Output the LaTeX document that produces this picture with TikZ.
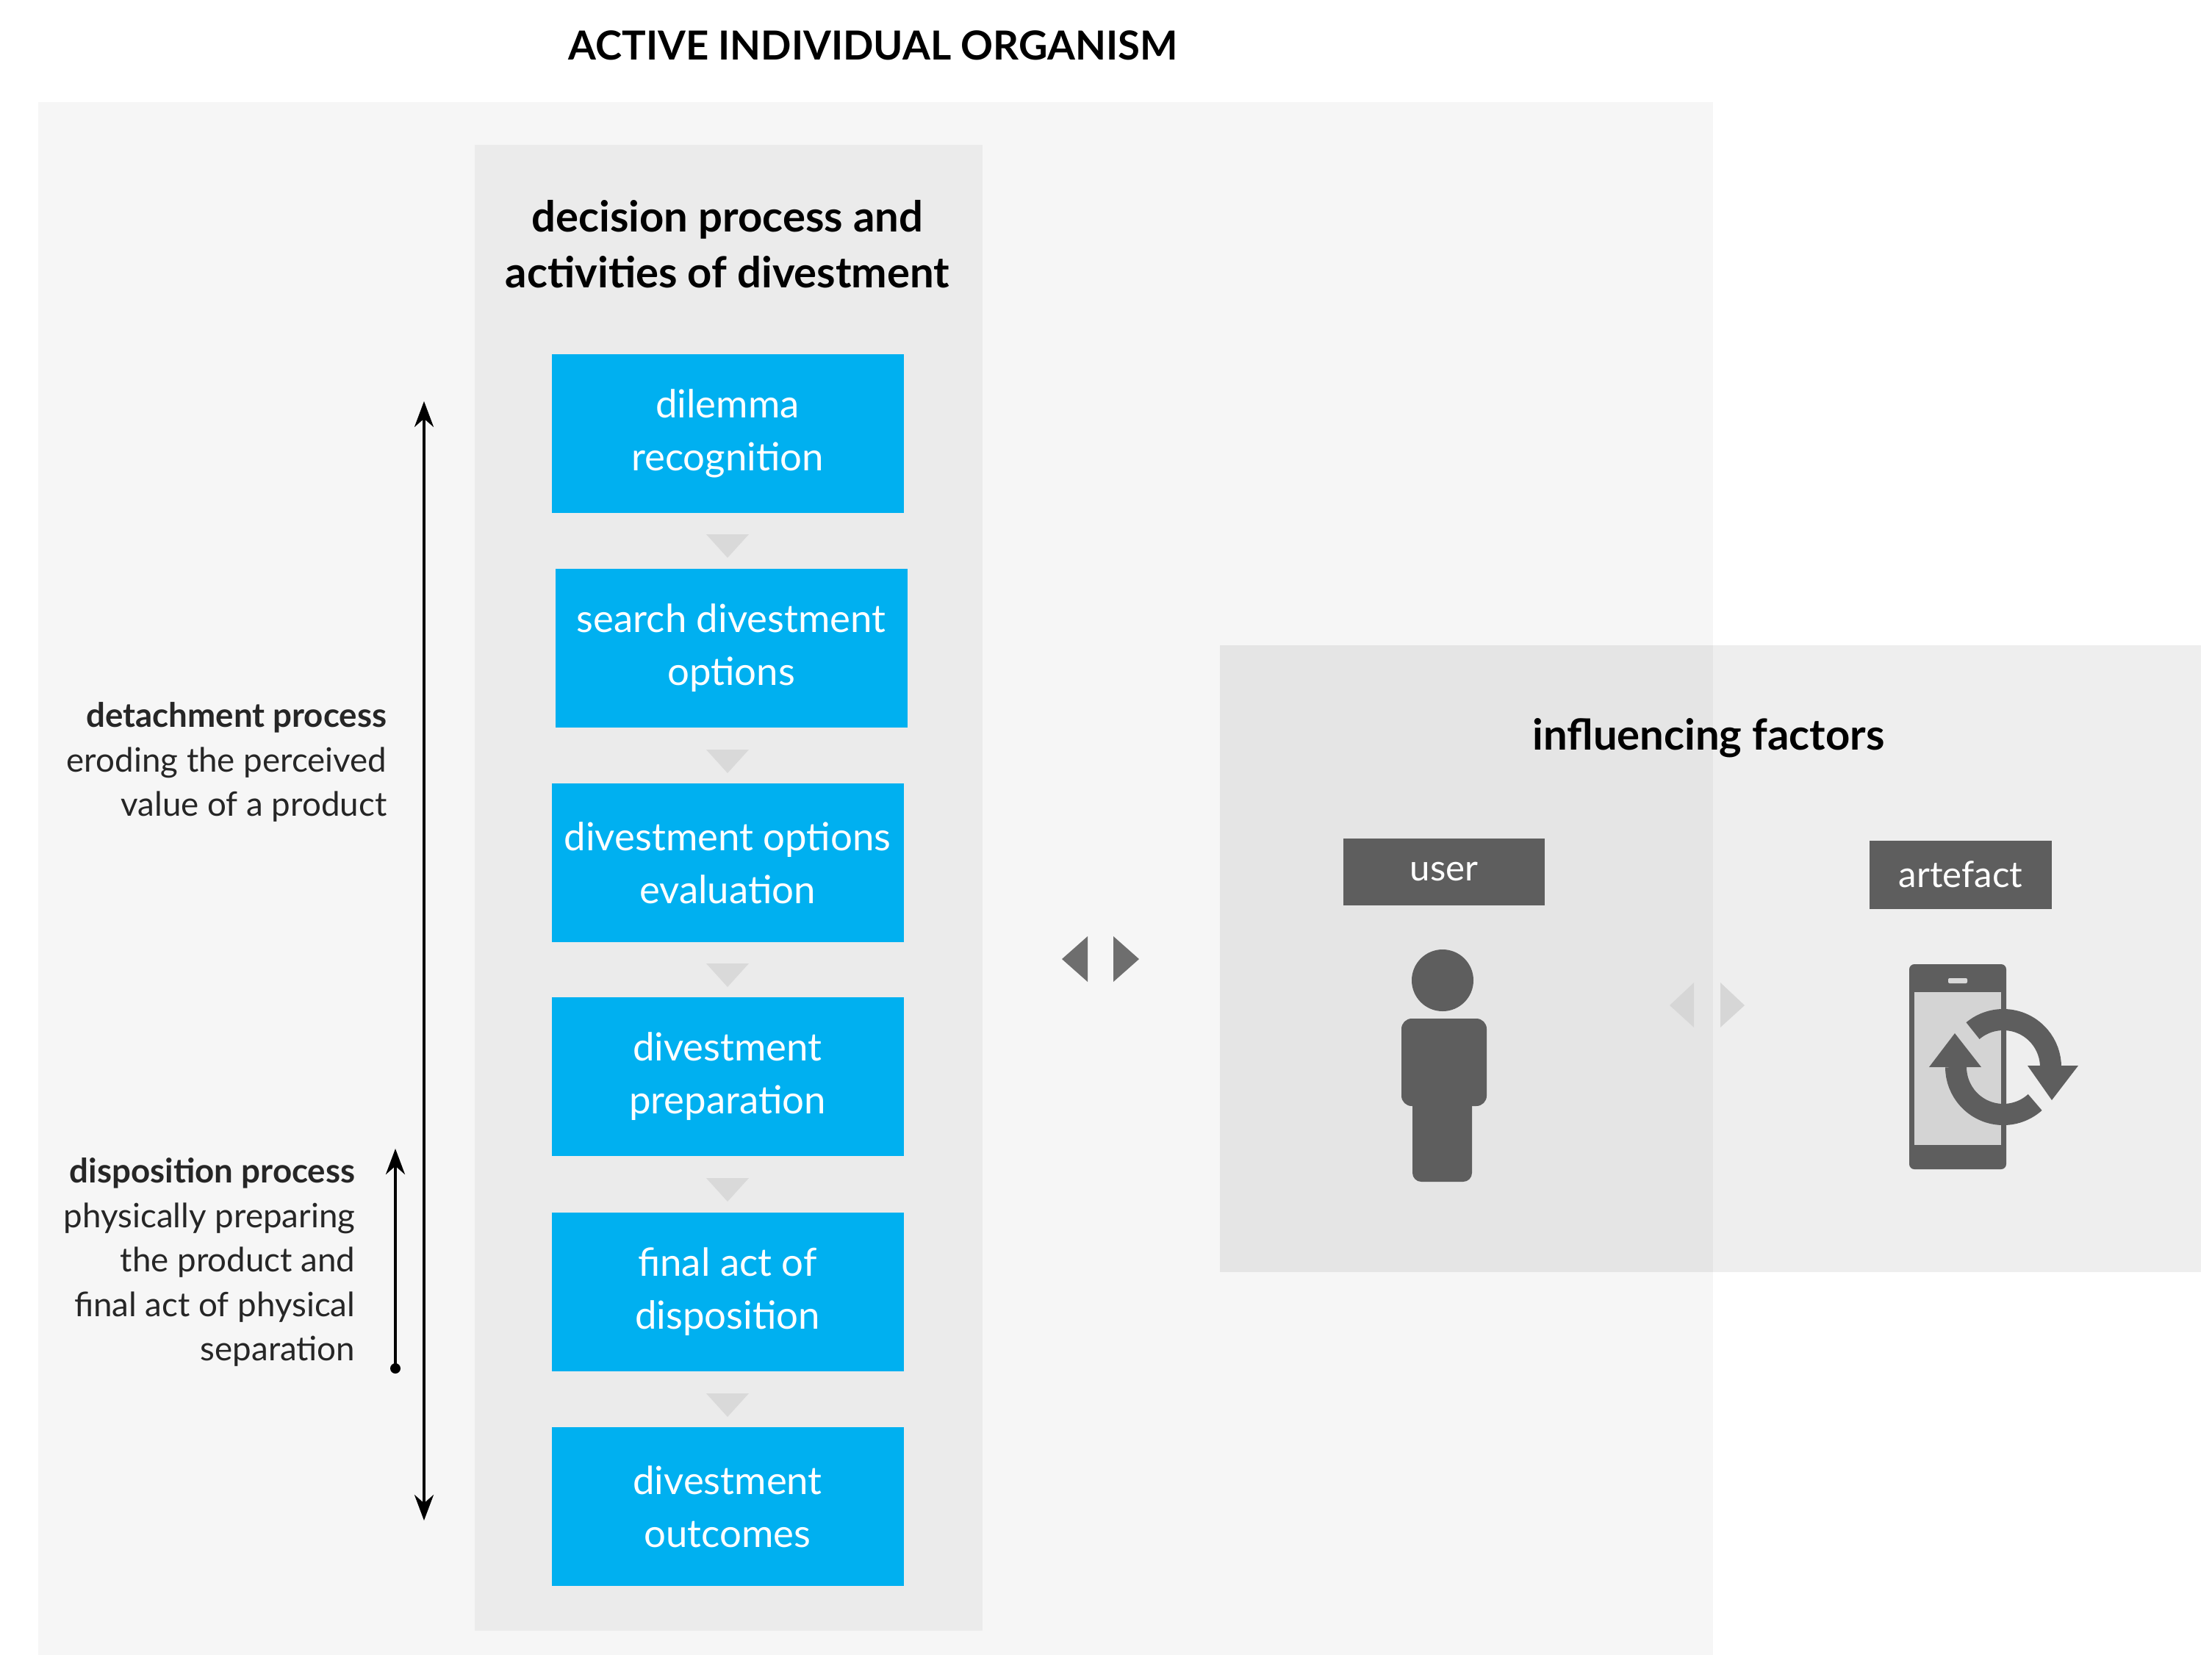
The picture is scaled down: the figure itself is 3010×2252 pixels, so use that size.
\documentclass[tikz,border=0pt]{standalone}
\usepackage{fontspec}
\usetikzlibrary{arrows.meta}
\setmainfont{Lato}
\begin{document}
\begin{tikzpicture}[x=0.1mm,y=-0.1mm,
  blue/.style={draw=none, minimum width=47.9mm, minimum height=21.6mm, text=white, align=center, font=\fontsize{15}{20.5}\selectfont, inner sep=0pt},
  lab/.style={text=white, font=\fontsize{14}{16}\selectfont, inner sep=0pt},
  side/.style={align=right, anchor=north east, font=\fontsize{13}{17.2}\selectfont, text=black!85, inner sep=0pt},
  arr/.style={line width=1.2pt, -{Stealth[length=3.5mm,width=2.6mm]}}
]
\definecolor{boxblue}{HTML}{00B0F0}
\definecolor{darkg}{HTML}{5E5E5E}
\useasboundingbox (0,0) rectangle (3010,2252);
\fill[white] (0,0) rectangle (3010,2252);
\fill[black!3.5] (52,139) rectangle (2331,2252);
\fill[black!8] (646,197) rectangle (1337,2219);
\fill[black,opacity=0.065] (1660,878) rectangle (2995,1731);

\node[font=\bfseries\fontsize{15.5}{18}\selectfont] (title) at (1188,62) {ACTIVE INDIVIDUAL ORGANISM};
\node[font=\bfseries\fontsize{16.5}{21.5}\selectfont, align=center] (head) at (990,332) {decision process and\\activities of divestment};

\foreach \i/\y/\dx/\t in {1/590/0/{dilemma\\recognition},2/882/5/{search divestment\\options},3/1174/0/{divestment options\\evaluation},4/1465/0/{divestment\\preparation},5/1758/0/{final act of\\disposition},6/2050/0/{divestment\\outcomes}}{
  \node[blue, fill=boxblue] (b\i) at (990+\dx,\y) {\t};
}
\foreach \y in {727,1020,1311,1603,1896}{
  \fill[black!15] (961,\y) -- (1019,\y) -- (990,\y+32) -- cycle;
}

% left arrows
\coordinate (la1) at (577,2069);
\coordinate (la2) at (577,546);
\draw[line width=1.2pt, {Stealth[length=3.5mm,width=2.6mm]}-{Stealth[length=3.5mm,width=2.6mm]}] (la1) -- (la2);
\coordinate (sa1) at (538,1862);
\coordinate (sa2) at (538,1563);
\draw[arr] (sa1) -- (sa2);
\fill (sa1) circle (7);

\node[side] (det) at (527,955) {\textbf{detachment process}\\eroding the perceived\\value of a product};
\node[side] (disp) at (484,1575) {\textbf{disposition process}\\physically preparing\\the product and\\final act of physical\\separation};

% middle arrows
\fill[darkg!90] (1480,1274) -- (1480,1336) -- (1445,1305) -- cycle;
\fill[darkg!90] (1515,1274) -- (1515,1336) -- (1550,1305) -- cycle;

\node[font=\bfseries\fontsize{16.5}{20}\selectfont] (inf) at (2325,1004) {influencing factors};
\node[lab, fill=darkg, minimum width=27.4mm, minimum height=9.1mm] (user) at (1965,1186) {user};
\node[lab, fill=darkg, minimum width=24.8mm, minimum height=9.3mm] (art) at (2668,1190) {artefact};

% small arrows
\fill[black!16] (2305,1337) -- (2305,1398) -- (2272,1368) -- cycle;
\fill[black!16] (2341,1337) -- (2341,1398) -- (2374,1368) -- cycle;

% person
\fill[darkg] (1963,1334) circle (42);
\fill[darkg, rounded corners=1.4mm] (1907,1386) rectangle (2023,1505);
\fill[darkg, rounded corners=1.2mm] (1922,1470) rectangle (2003,1608);

% phone
\fill[darkg, rounded corners=0.7mm] (2598,1312) rectangle (2730,1591);
\fill[black!17] (2605,1350) rectangle (2723,1558);
\fill[black!15, rounded corners=0.2mm] (2651,1331) rectangle (2677,1338);
\draw[darkg, line width=2.9mm] (2726,1452) ++(-130:64.5) arc[start angle=-130, end angle=0, radius=64.5];
\draw[darkg, line width=2.9mm] (2726,1452) ++(48:64.5) arc[start angle=48, end angle=180, radius=64.5];
\fill[darkg] (2759,1450) -- (2828,1450) -- (2792,1497) -- cycle;
\fill[darkg] (2625,1452) -- (2696,1452) -- (2660,1406) -- cycle;
\end{tikzpicture}
\end{document}
